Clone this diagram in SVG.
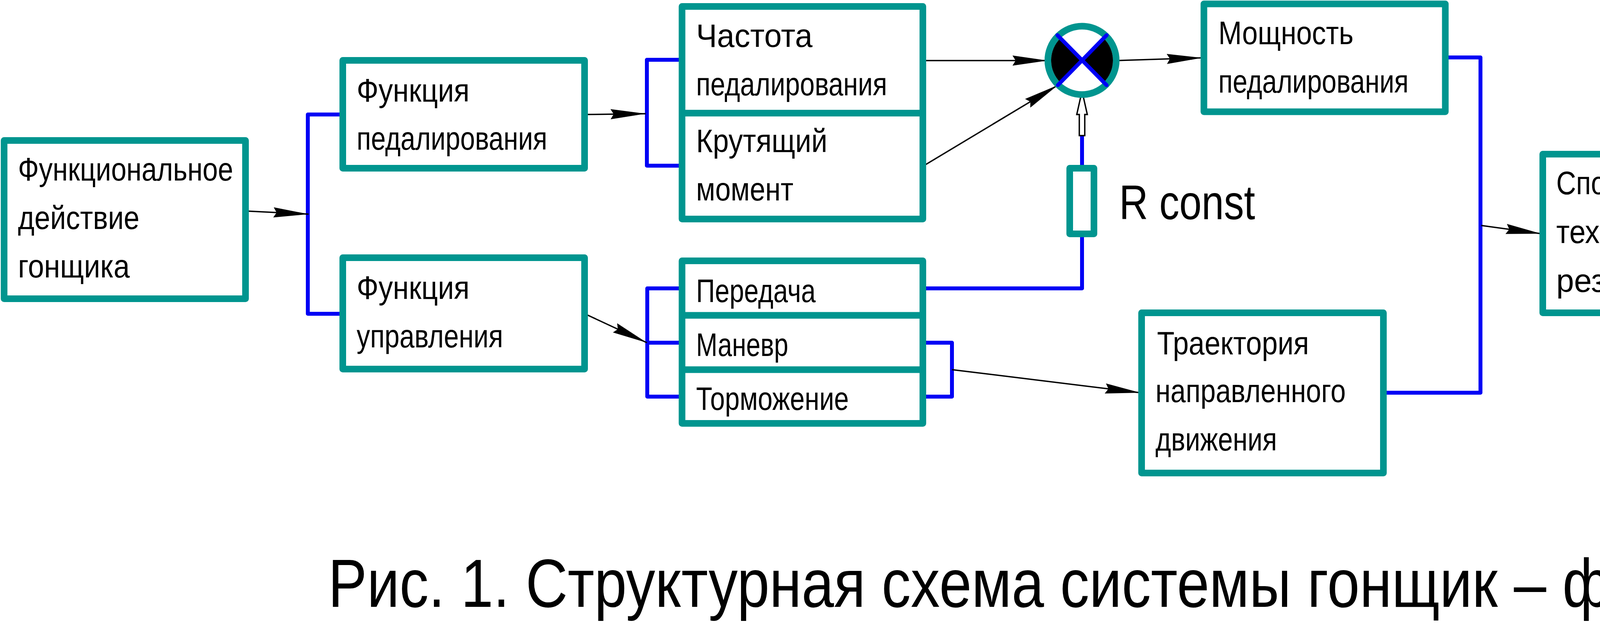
<svg xmlns="http://www.w3.org/2000/svg" width="4578" height="1602" viewBox="0 0 4578 1602">
<style>
.box{fill:#fff;stroke:#00958F;stroke-width:17;stroke-linejoin:round}
.div{stroke:#00958F;stroke-width:17}
.t{font-family:"Liberation Sans",Arial,sans-serif;font-size:84px;fill:#000}
.bl{fill:none;stroke:#0000F5;stroke-width:10;stroke-linecap:round;stroke-linejoin:round}
.ar{fill:none;stroke:#000;stroke-width:3.5;marker-end:url(#ah)}
</style>
<defs>
<marker id="ah" markerUnits="userSpaceOnUse" markerWidth="92" markerHeight="28" viewBox="0 0 92 28" refX="90" refY="14" orient="auto">
<path d="M90 14 L0 1 L8 14 L0 27 Z" fill="#000"/>
</marker>
</defs>
<rect width="4578" height="1602" fill="#fff"/>

<g id="connectors">
<path class="bl" d="M878 293 H788 V803 H878"/>
<path class="bl" d="M1746 153 H1656 V424 H1746"/>
<path class="bl" d="M1746 738 H1657 V1015 H1746 M1657 877 H1746"/>
<path class="bl" d="M2362 877 H2437 V1015 H2362"/>
<path class="bl" d="M2770 347 V431 M2770 599 V738 H2365"/>
<path class="bl" d="M3709 147 H3790 V1005 H3550"/>
<line class="ar" x1="629" y1="540" x2="790" y2="548"/>
<line class="ar" x1="1497" y1="293" x2="1653" y2="291"/>
<line class="ar" x1="1497" y1="803" x2="1656" y2="877"/>
<line class="ar" x1="2437" y1="946" x2="2919" y2="1005"/>
<line class="ar" x1="2365" y1="155" x2="2682" y2="155"/>
<line class="ar" x1="2365" y1="424" x2="2708" y2="218"/>
<line class="ar" x1="2858" y1="155" x2="3077" y2="148"/>
<line class="ar" x1="3792" y1="577" x2="3945" y2="598"/>
<polygon points="2770,233 2783.5,293 2777,293 2777,347 2763,347 2763,293 2756.5,293" fill="#fff" stroke="#000" stroke-width="3.5" stroke-linejoin="miter"/>
</g>

<g id="node-rider">
<rect class="box" x="10.5" y="359.5" width="618" height="405"/>
<text class="t" x="46" y="462" textLength="551" lengthAdjust="spacingAndGlyphs">Функциональное</text>
<text class="t" x="46" y="586" textLength="311" lengthAdjust="spacingAndGlyphs">действие</text>
<text class="t" x="46" y="710" textLength="286" lengthAdjust="spacingAndGlyphs">гонщика</text>
</g>

<g id="node-pedal-func">
<rect class="box" x="877.5" y="154.5" width="619" height="276"/>
<text class="t" x="913" y="260" textLength="289" lengthAdjust="spacingAndGlyphs">Функция</text>
<text class="t" x="913" y="383" textLength="488" lengthAdjust="spacingAndGlyphs">педалирования</text>
</g>

<g id="node-control-func">
<rect class="box" x="877.5" y="659.5" width="619" height="285"/>
<text class="t" x="913" y="765" textLength="289" lengthAdjust="spacingAndGlyphs">Функция</text>
<text class="t" x="913" y="889" textLength="375" lengthAdjust="spacingAndGlyphs">управления</text>
</g>

<g id="node-cadence-torque">
<rect class="box" x="1746" y="16.5" width="616.5" height="544"/>
<line class="div" x1="1746" y1="289.5" x2="2362.5" y2="289.5"/>
<text class="t" x="1782" y="120" textLength="298" lengthAdjust="spacingAndGlyphs">Частота</text>
<text class="t" x="1782" y="244" textLength="489" lengthAdjust="spacingAndGlyphs">педалирования</text>
<text class="t" x="1782" y="389" textLength="336" lengthAdjust="spacingAndGlyphs">Крутящий</text>
<text class="t" x="1782" y="513" textLength="249" lengthAdjust="spacingAndGlyphs">момент</text>
</g>

<g id="node-gear-maneuver-brake">
<rect class="box" x="1746" y="667.5" width="616.5" height="416"/>
<line class="div" x1="1746" y1="807" x2="2362.5" y2="807"/>
<line class="div" x1="1746" y1="946" x2="2362.5" y2="946"/>
<text class="t" x="1782" y="773" textLength="306" lengthAdjust="spacingAndGlyphs">Передача</text>
<text class="t" x="1782" y="911" textLength="236" lengthAdjust="spacingAndGlyphs">Маневр</text>
<text class="t" x="1782" y="1049" textLength="391" lengthAdjust="spacingAndGlyphs">Торможение</text>
</g>

<g id="node-multiplier">
<circle cx="2770" cy="154.5" r="87.5" fill="#fff" stroke="#00958F" stroke-width="17"/>
<path d="M2770 154.5 L2714.1 98.6 A79 79 0 0 0 2714.1 210.4 Z" fill="#000"/>
<path d="M2770 154.5 L2825.9 98.6 A79 79 0 0 1 2825.9 210.4 Z" fill="#000"/>
<path class="bl" d="M2707 90 L2833 218 M2833 90 L2708 218"/>
</g>

<g id="node-resistor">
<rect class="box" x="2738.5" y="430.5" width="62" height="168"/>
<text x="2865" y="561" style="font-family:'Liberation Sans',Arial,sans-serif;font-size:124px" textLength="348" lengthAdjust="spacingAndGlyphs">R const</text>
</g>

<g id="node-power">
<rect class="box" x="3082" y="10" width="618" height="276"/>
<text class="t" x="3119" y="113" textLength="346" lengthAdjust="spacingAndGlyphs">Мощность</text>
<text class="t" x="3119" y="237" textLength="487" lengthAdjust="spacingAndGlyphs">педалирования</text>
</g>

<g id="node-trajectory">
<rect class="box" x="2922.5" y="800.5" width="619" height="410"/>
<text class="t" x="2962" y="907" textLength="389" lengthAdjust="spacingAndGlyphs">Траектория</text>
<text class="t" x="2958" y="1029" textLength="487" lengthAdjust="spacingAndGlyphs">направленного</text>
<text class="t" x="2958" y="1153" textLength="311" lengthAdjust="spacingAndGlyphs">движения</text>
</g>

<g id="node-result">
<rect class="box" x="3949.5" y="394.5" width="617" height="406"/>
<text class="t" x="3984" y="497" textLength="352" lengthAdjust="spacingAndGlyphs">Спортивно</text>
<text class="t" x="3984" y="622" textLength="429" lengthAdjust="spacingAndGlyphs">технический</text>
<text class="t" x="3984" y="747" textLength="366" lengthAdjust="spacingAndGlyphs">результат</text>
</g>

<g id="caption">
<text x="840" y="1553" style="font-family:'Liberation Sans',Arial,sans-serif;font-size:175px" textLength="3507" lengthAdjust="spacingAndGlyphs">Рис. 1. Структурная схема системы гонщик – фикс</text>
</g>
</svg>
